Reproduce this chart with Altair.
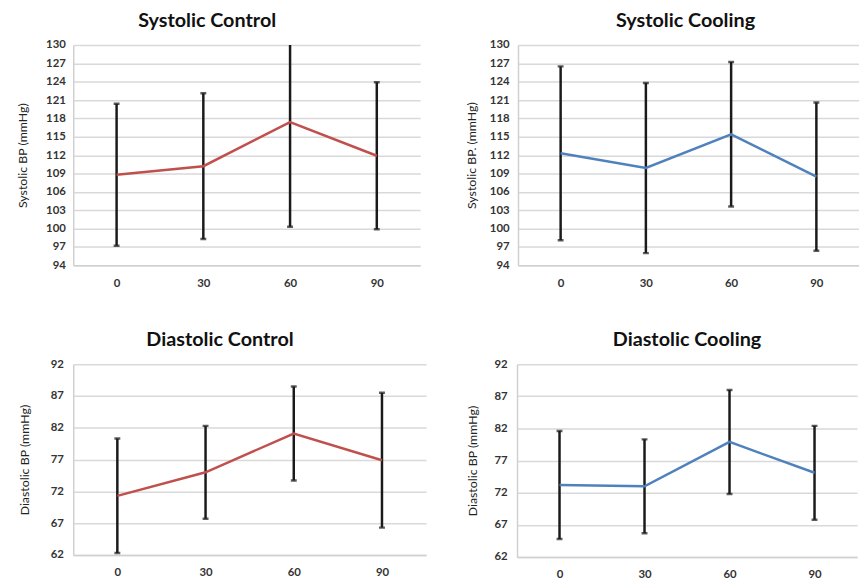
import altair as alt
import pandas as pd

times = ["0", "30", "60", "90"]

sys_ctrl_mean = [108.8, 110.2, 117.4, 111.9]
sys_ctrl_err = [11.6, 11.9, 17.1, 12.0]
sys_cool_mean = [112.3, 109.9, 115.4, 108.5]
sys_cool_err = [14.2, 13.9, 11.8, 12.1]
dia_ctrl_mean = [71.3, 75.0, 81.1, 76.9]
dia_ctrl_err = [9.0, 7.3, 7.4, 10.6]
dia_cool_mean = [73.2, 73.0, 79.9, 75.1]
dia_cool_err = [8.4, 7.3, 8.1, 7.3]

sys_ticks = [94, 97, 100, 103, 106, 109, 112, 115, 118, 121, 124, 127, 130]
dia_ticks = [62, 67, 72, 77, 82, 87, 92]

FONT = "Lato"


def panel(title, means, errs, color, ytitle, ticks, w, h, tpad, lpad, dx):
    df = pd.DataFrame({
        "time": times,
        "mean": means,
        "lo": [m - e for m, e in zip(means, errs)],
        "hi": [m + e for m, e in zip(means, errs)],
    })
    xenc = alt.X("time:N", sort=times,
                 scale=alt.Scale(type="point", padding=0.5),
                 axis=alt.Axis(title=None, labelAngle=0, ticks=False, grid=False,
                               domainColor="#d0d0d0", domainWidth=1.5,
                               labelFont=FONT, labelFontWeight="bold",
                               labelFontSize=11.5, labelColor="#333333",
                               labelPadding=12))
    yscale = alt.Scale(domain=[ticks[0], ticks[-1]], nice=False, zero=False)
    yaxis = alt.Axis(title=ytitle, values=ticks, ticks=False, grid=True,
                     gridColor="#d9d9d9", gridWidth=1.5,
                     domainColor="#d0d0d0", domainWidth=1.5,
                     labelFont=FONT, labelFontWeight="bold", labelFontSize=11.5,
                     labelColor="#333333", labelPadding=lpad,
                     titleFont=FONT, titleFontWeight="normal", titleFontSize=12.5,
                     titleColor="#222222", titlePadding=tpad)
    base = alt.Chart(df)
    rule = base.mark_rule(color="#1a1a1a", strokeWidth=2.5, clip=True).encode(
        x=xenc, y=alt.Y("lo:Q", scale=yscale, axis=yaxis), y2="hi:Q")
    cap_lo = base.mark_tick(color="#1a1a1a", thickness=2.5, size=6, clip=True).encode(
        x=xenc, y=alt.Y("lo:Q", scale=yscale, axis=yaxis))
    cap_hi = base.mark_tick(color="#1a1a1a", thickness=2.5, size=6, clip=True).encode(
        x=xenc, y=alt.Y("hi:Q", scale=yscale, axis=yaxis))
    line = base.mark_line(color=color, strokeWidth=2.5).encode(
        x=xenc, y=alt.Y("mean:Q", scale=yscale, axis=yaxis))
    return alt.layer(rule, cap_lo, cap_hi, line).properties(
        width=w, height=h,
        title=alt.TitleParams(title, font=FONT, fontSize=20, fontWeight="bold",
                              color="#111111", offset=8, dx=dx, anchor="middle"))


RED = "#C0504D"
BLUE = "#4F81BD"

tl = panel("Systolic Control", sys_ctrl_mean, sys_ctrl_err, RED,
           "Systolic BP (mmHg)", sys_ticks, 351, 223, 16, 8, -40)
tr = panel("Systolic Cooling", sys_cool_mean, sys_cool_err, BLUE,
           "Systolic BP. (mmHg)", sys_ticks, 345, 223, 11, 9, -3)
bl = panel("Diastolic Control", dia_ctrl_mean, dia_ctrl_err, RED,
           "Diastolic BP (mmHg)", dia_ticks, 357, 193, 19, 10, -30)
br = panel("Diastolic Cooling", dia_cool_mean, dia_cool_err, BLUE,
           "Diastolic BP (mmHg)", dia_ticks, 344, 195, 15, 10, 0)

chart = alt.vconcat(
    alt.hconcat(tl, tr, spacing=45),
    alt.hconcat(bl, br, spacing=40),
    spacing=42,
).properties(
    padding={"left": 8, "top": 0, "right": 0, "bottom": 0},
    background="white",
).configure_view(stroke=None)

chart.save("out.html", embed_options={"renderer": "svg", "actions": False})
